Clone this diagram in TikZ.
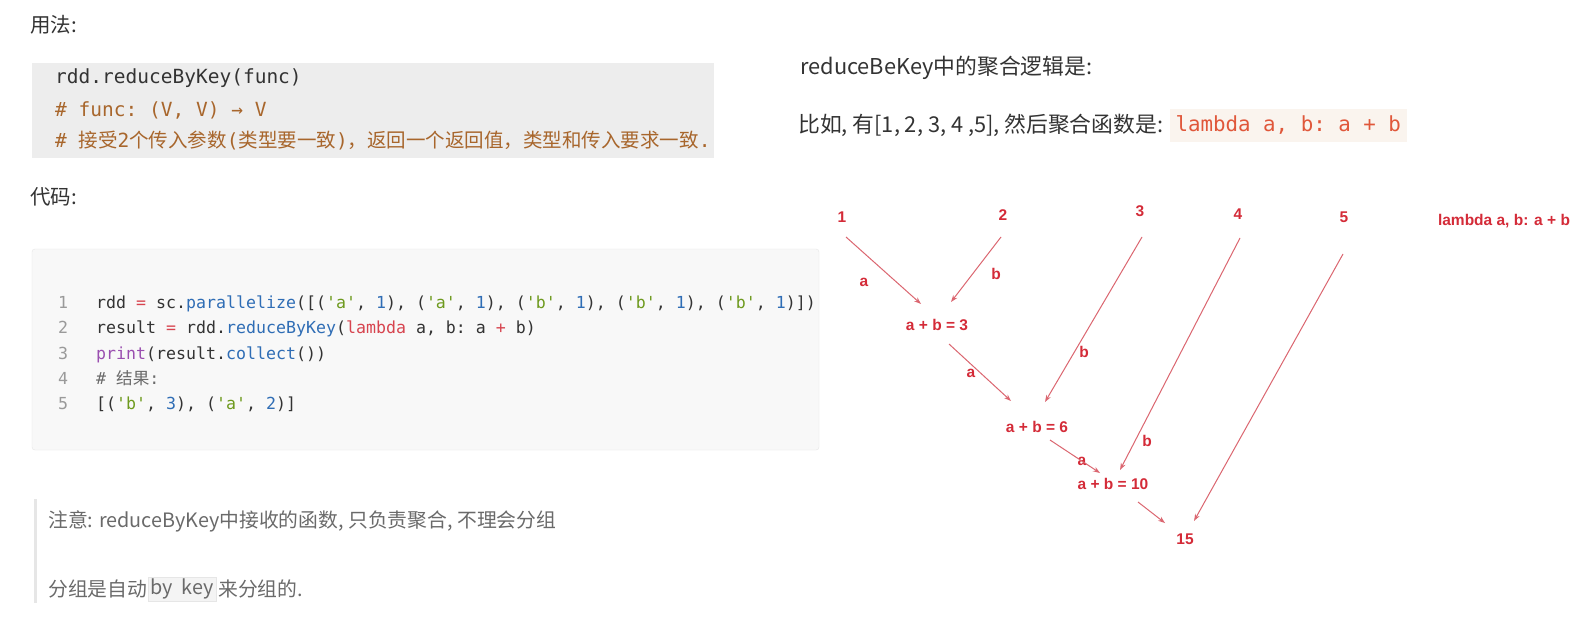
\documentclass[tikz,border=0pt]{standalone}
\usepackage{fontspec}
\setmainfont{Noto Sans CJK SC}
\setmonofont{DejaVu Sans Mono}
\newfontfamily\cjk{Noto Sans CJK SC}
\newfontfamily\redsans{Liberation Sans}
\usetikzlibrary{arrows.meta,positioning}
\definecolor{txt}{HTML}{333333}
\definecolor{note}{HTML}{6A6A6A}
\definecolor{cmt}{HTML}{A8662C}
\definecolor{boxa}{HTML}{EDEDED}
\definecolor{boxb}{HTML}{F8F8F8}
\definecolor{boxline}{HTML}{E6E6E6}
\definecolor{lnum}{HTML}{9A9A9A}
\definecolor{opred}{HTML}{D7444F}
\definecolor{fnblue}{HTML}{2F6DB5}
\definecolor{strgreen}{HTML}{6E9A1E}
\definecolor{prpurple}{HTML}{9A4FB0}
\definecolor{lamred}{HTML}{E0573A}
\definecolor{lambg}{HTML}{FAF4EE}
\definecolor{diagred}{HTML}{D42B38}
\definecolor{arrred}{HTML}{DB6670}
\newcommand\cop[1]{\textcolor{opred}{#1}}
\newcommand\cfn[1]{\textcolor{fnblue}{#1}}
\newcommand\cstr[1]{\textcolor{strgreen}{#1}}
\newcommand\cpr[1]{\textcolor{prpurple}{#1}}

\begin{document}
\begin{tikzpicture}[x=1pt, y=-1pt,
  prose/.style={anchor=west, inner sep=0pt, text=txt, font=\fontsize{20.5}{24}\selectfont},
  bigprose/.style={prose, font=\fontsize{21.8}{26}\selectfont},
  notetxt/.style={prose, text=note, font=\fontsize{19.8}{23}\selectfont},
  codea/.style={anchor=west, inner sep=0pt, text height=14pt, text depth=4pt, font=\ttfamily\fontsize{19.5}{23}\selectfont},
  codeb/.style={anchor=west, inner sep=0pt, text=txt, text height=12pt, text depth=4pt, font=\ttfamily\fontsize{16.6}{20}\selectfont},
  lno/.style={codeb, anchor=center, text=lnum},
  lbl/.style={inner sep=0pt, text=diagred, font=\redsans\bfseries\fontsize{15.5}{18}\selectfont},
  arr/.style={draw=arrred, line width=1pt, -{Stealth[open, length=7pt, width=5pt]}}]
\fill[white] (0,0) rectangle (1582,622);
\useasboundingbox (0,0) rectangle (1582,622);

\node[prose] (usage) at (30,25) {用法:};
\fill[boxa] (32,63) rectangle (714,158);
\node[codea, text=txt] (sig) at (55,78) {rdd.reduceByKey(func)};
\node[codea, text=cmt] (ftype) at (55,111) {\# func: (V, V) → V};
\node[codea, text=cmt] (fnote) at (55,142) {\# {\cjk 接受}2{\cjk 个传入参数}({\cjk 类型要一致}){\cjk ，返回一个返回值，类型和传入要求一致}.};

\node[prose] (codehd) at (30,197) {代码:};
\draw[boxline, fill=boxb, rounded corners=3pt] (32,249) rectangle (819,450);
\foreach \n/\y in {1/304,2/329,3/355,4/380,5/405}
  \node[lno] (ln\n) at (63,\y) {\n};
\node[codeb] (c1) at (96,304) {rdd \cop{=} sc.\cfn{parallelize}([(\cstr{'a'}, \cfn{1}), (\cstr{'a'}, \cfn{1}), (\cstr{'b'}, \cfn{1}), (\cstr{'b'}, \cfn{1}), (\cstr{'b'}, \cfn{1})])};
\node[codeb] (c2) at (96,329) {result \cop{=} rdd.\cfn{reduceByKey}(\cop{lambda} a, b: a \cop{+} b)};
\node[codeb] (c3) at (96,355) {\cpr{print}(result.\cfn{collect}())};
\node[codeb, text=note] (c4) at (96,380) {\# {\cjk 结果}:};
\node[codeb] (c5) at (96,405) {[(\cstr{'b'}, \cfn{3}), (\cstr{'a'}, \cfn{2})]};

\draw[boxline, line width=3pt] (35,499) -- (35,603);
\node[notetxt] (warn) at (48,521) {注意: reduceByKey中接收的函数, 只负责聚合, 不理会分组};
\node[notetxt] (grp) at (48,589) {分组是自动};
\node[notetxt, draw=boxline, fill=boxa!60, inner xsep=2pt, minimum height=24pt, right=1pt of grp] (bykey) {by\ \ key};
\node[notetxt, right=2pt of bykey] (grpend) {来分组的.};

\node[bigprose] (logic) at (800,68) {reduceBeKey中的聚合逻辑是:};
\node[bigprose] (ex) at (798,125) {比如, 有[1, 2, 3, 4 ,5], 然后聚合函数是:};
\node[fill=lambg, text=lamred, inner xsep=6pt, minimum height=33pt, font=\ttfamily\fontsize{20.8}{24}\selectfont, right=6pt of ex] (lam) {lambda a, b: a + b};

\node[lbl] (n1) at (842,217) {1};
\node[lbl] (n2) at (1003,215) {2};
\node[lbl] (n3) at (1140,211) {3};
\node[lbl] (n4) at (1238,214) {4};
\node[lbl] (n5) at (1344,217) {5};
\node[lbl] (fn) at (1504,221) {lambda a, b: a + b};
\node[lbl] (s1) at (937,325) {a + b = 3};
\node[lbl] (s2) at (1037,427) {a + b = 6};
\node[lbl] (s3) at (1113,484) {a + b = 10};
\node[lbl] (tot) at (1185,539) {15};
\node[lbl] (la1) at (864,282) {a};
\node[lbl] (lb1) at (996,274) {b};
\node[lbl] (la2) at (971,373) {a};
\node[lbl] (lb2) at (1084,352) {b};
\node[lbl] (lb3) at (1147,441) {b};
\node[lbl] (la3) at (1082,461) {a};
\draw[arr] ([shift={(4,20)}]n1.center) -- ([shift={(-16,-21)}]s1.center);
\draw[arr] ([shift={(-2,22)}]n2.center) -- ([shift={(14,-23)}]s1.center);
\draw[arr] ([shift={(12,19)}]s1.center) -- ([shift={(-26,-26)}]s2.center);
\draw[arr] ([shift={(2,26)}]n3.center) -- ([shift={(8,-25)}]s2.center);
\draw[arr] ([shift={(13,13)}]s2.center) -- ([shift={(-13,-11)}]s3.center);
\draw[arr] ([shift={(2,24)}]n4.center) -- ([shift={(7,-14)}]s3.center);
\draw[arr] ([shift={(25,18)}]s3.center) -- ([shift={(-20,-16)}]tot.center);
\draw[arr] ([shift={(-1,37)}]n5.center) -- ([shift={(9,-18)}]tot.center);
\end{tikzpicture}
\end{document}
